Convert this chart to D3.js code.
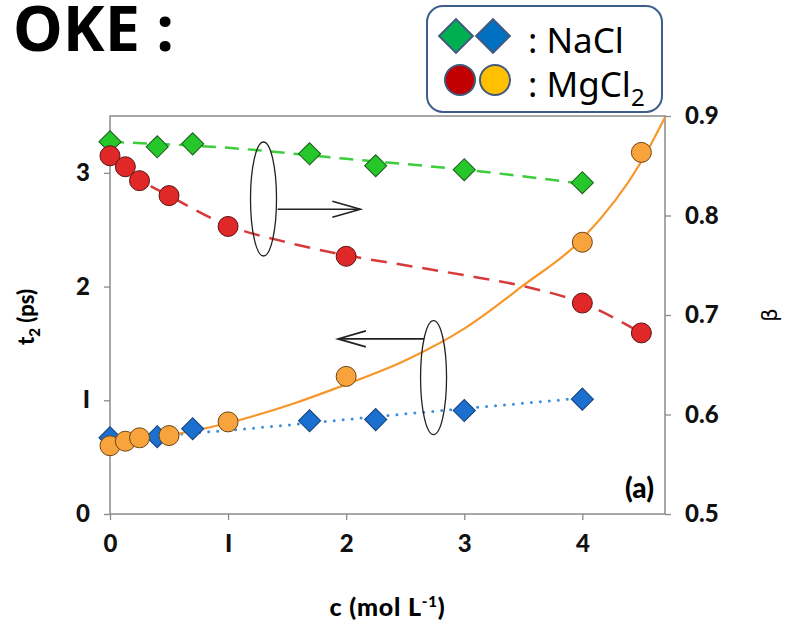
<!DOCTYPE html>
<html>
<head>
<meta charset="utf-8">
<script src="https://cdn.jsdelivr.net/npm/d3@7"></script>
<style>
  body { margin: 0; background: #fff; }
  text { font-family: Lato, "Open Sans", sans-serif; }
</style>
</head>
<body>
<svg id="chart"></svg>
<script>
// NaCl: beta (right axis) and t2 (left axis)
const naclC = [0, 0.4, 0.7, 1.69, 2.25, 3, 4]
const naclBeta = [0.874, 0.869, 0.872, 0.862, 0.850, 0.846, 0.833]
const naclT2 = [0.67, 0.68, 0.75, 0.82, 0.83, 0.91, 1.01]

// MgCl2: beta (right axis) and t2 (left axis)
const mgC = [0, 0.13, 0.25, 0.5, 1, 2, 4, 4.5]
const mgBeta = [0.860, 0.849, 0.835, 0.820, 0.789, 0.759, 0.712, 0.682]
const mgT2 = [0.60, 0.64, 0.67, 0.69, 0.81, 1.21, 2.39, 3.18]

// fit curves
const naclBetaFitC = [0, 1, 2, 3, 4]
const naclBetaFit = [0.874, 0.868, 0.857, 0.846, 0.832]
const mgBetaFitC = [0, 0.13, 0.25, 0.5, 1, 1.5, 2, 2.5, 3, 3.5, 4, 4.5]
const mgBetaFit = [0.862, 0.850, 0.837, 0.820, 0.790, 0.773, 0.760, 0.750, 0.740, 0.729, 0.712, 0.682]
const naclT2FitC = [0, 1.27, 2.5, 4]
const naclT2Fit = [0.655, 0.76, 0.88, 1.02]
const mgT2FitC = [0, 0.5, 1, 1.55, 2, 2.5, 3, 3.5, 4, 4.5, 4.7]
const mgT2Fit = [0.60, 0.69, 0.80, 0.97, 1.14, 1.35, 1.63, 2.01, 2.42, 3.10, 3.49]

// ticks
const xTicks = [0, 1, 2, 3, 4]
const xTickLabels = ['0', 'I', '2', '3', '4']
const t2Ticks = [0, 1, 2, 3]
const t2TickLabels = ['0', 'I', '2', '3']
const betaTicks = [0.5, 0.6, 0.7, 0.8, 0.9]

const width = 787
const height = 631

const svg = d3.select('#chart')
  .attr('width', width)
  .attr('height', height)

const x = d3.scaleLinear().domain([0, 4.7]).range([110, 665])
const yL = d3.scaleLinear().domain([0, 3.5]).range([514, 116])
const yR = d3.scaleLinear().domain([0.5, 0.9]).range([514, 116])

const axisColor = '#8a8a8a'

// frame
svg.append('rect')
  .attr('x', x(0)).attr('y', yL(3.5))
  .attr('width', x(4.7) - x(0)).attr('height', yL(0) - yL(3.5))
  .attr('fill', 'none').attr('stroke', axisColor).attr('stroke-width', 1.5)

function styleAxis (g) {
  g.select('.domain').remove()
  g.selectAll('.tick line').attr('stroke', axisColor).attr('stroke-width', 1.3)
  g.selectAll('.tick text')
    .attr('fill', '#111')
    .style('font-family', 'Lato, sans-serif')
    .style('font-weight', 900)
    .style('font-size', '24px')
}

svg.append('g')
  .attr('transform', `translate(0,${yL(0)})`)
  .call(d3.axisBottom(x).tickValues(xTicks).tickSize(6).tickPadding(15)
    .tickFormat((d, i) => xTickLabels[i]))
  .call(styleAxis)

svg.append('g')
  .attr('transform', `translate(${x(0)},0)`)
  .call(d3.axisLeft(yL).tickValues(t2Ticks).tickSize(6).tickPadding(14)
    .tickFormat((d, i) => t2TickLabels[i]))
  .call(styleAxis)

svg.append('g')
  .attr('transform', `translate(${x(4.7)},0)`)
  .call(d3.axisRight(yR).tickValues(betaTicks).tickSize(6).tickPadding(14)
    .tickFormat(d3.format('.1f')))
  .call(styleAxis)

// axis titles
const yTitle = svg.append('text')
  .attr('transform', `translate(34,${(yL(0) + yL(3.5)) / 2 + 2}) rotate(-90)`)
  .attr('text-anchor', 'middle')
  .style('font-weight', 900).style('font-size', '22px')
yTitle.append('tspan').text('t')
yTitle.append('tspan').attr('dy', 6).style('font-size', '15px').text('2')
yTitle.append('tspan').attr('dy', -6).text(' (ps)')

svg.append('text')
  .attr('transform', `translate(777,${(yL(0) + yL(3.5)) / 2}) rotate(-90)`)
  .attr('text-anchor', 'middle')
  .style('font-family', '"DejaVu Sans", sans-serif')
  .style('font-size', '21px')
  .text('β')

const xTitle = svg.append('text')
  .attr('x', (x(0) + x(4.7)) / 2).attr('y', 616)
  .attr('text-anchor', 'middle')
  .style('font-weight', 900).style('font-size', '25px')
  .style('letter-spacing', '0.8px')
xTitle.append('tspan').text('c (mol L')
xTitle.append('tspan').attr('dy', -9).style('font-size', '15px').text('-1')
xTitle.append('tspan').attr('dy', 9).text(')')

// fit lines
const line = (ys) => d3.line()
  .x(d => x(d[0]))
  .y(d => ys(d[1]))
  .curve(d3.curveMonotoneX)

svg.append('path')
  .attr('d', line(yR)(d3.zip(naclBetaFitC, naclBetaFit)))
  .attr('fill', 'none').attr('stroke', '#3ccc3c').attr('stroke-width', 2.5)
  .attr('stroke-dasharray', '14,9')

svg.append('path')
  .attr('d', line(yR)(d3.zip(mgBetaFitC, mgBetaFit)))
  .attr('fill', 'none').attr('stroke', '#d83a3a').attr('stroke-width', 2.5)
  .attr('stroke-dasharray', '16,10')

svg.append('path')
  .attr('d', line(yL)(d3.zip(naclT2FitC, naclT2Fit)))
  .attr('fill', 'none').attr('stroke', '#3a8ee0').attr('stroke-width', 3)
  .attr('stroke-linecap', 'round')
  .attr('stroke-dasharray', '0,9')

svg.append('path')
  .attr('d', line(yL)(d3.zip(mgT2FitC, mgT2Fit)))
  .attr('fill', 'none').attr('stroke', '#f7962a').attr('stroke-width', 2.2)

// markers
const diamond = d3.symbol(d3.symbolSquare, 245)()

function drawDiamonds (cs, vs, ys, fill, stroke) {
  svg.append('g').selectAll('path')
    .data(d3.zip(cs, vs))
    .join('path')
    .attr('d', diamond)
    .attr('transform', d => `translate(${x(d[0])},${ys(d[1])}) rotate(45)`)
    .attr('fill', fill).attr('stroke', stroke).attr('stroke-width', 1)
}

function drawCircles (cs, vs, ys, fill, stroke) {
  svg.append('g').selectAll('circle')
    .data(d3.zip(cs, vs))
    .join('circle')
    .attr('cx', d => x(d[0])).attr('cy', d => ys(d[1]))
    .attr('r', 10)
    .attr('fill', fill).attr('stroke', stroke).attr('stroke-width', 1)
}

drawDiamonds(naclC, naclBeta, yR, '#25c72b', '#1c5a1c')
drawCircles(mgC, mgBeta, yR, '#e02828', '#5a1515')
drawDiamonds(naclC, naclT2, yL, '#1a6fcf', '#153f78')
drawCircles(mgC, mgT2, yL, '#f8a33c', '#6b4515')

// annotations: ellipses with arrows pointing to the axis used
const annColor = '#222'
function ellipse (c, t2) {
  svg.append('ellipse')
    .attr('cx', x(c)).attr('cy', yL(t2))
    .attr('rx', 13).attr('ry', 57)
    .attr('fill', 'none').attr('stroke', annColor).attr('stroke-width', 1.3)
}
function arrow (c0, c1, t2) {
  const dir = c1 > c0 ? 1 : -1
  const tip = x(c1)
  const y = yL(t2)
  svg.append('line')
    .attr('x1', x(c0)).attr('x2', tip).attr('y1', y).attr('y2', y)
    .attr('stroke', annColor).attr('stroke-width', 1.6)
  svg.append('path')
    .attr('d', `M${tip - dir * 28},${y - 8}L${tip},${y}L${tip - dir * 28},${y + 8}`)
    .attr('fill', 'none').attr('stroke', annColor).attr('stroke-width', 1.6)
}
ellipse(1.30, 2.77)
arrow(1.42, 2.12, 2.68)
ellipse(2.74, 1.20)
arrow(2.66, 1.93, 1.54)

svg.append('text')
  .attr('x', 654).attr('y', 498)
  .attr('text-anchor', 'end')
  .style('font-weight', 900).style('font-size', '28px')
  .text('(a)')

// title
svg.append('text')
  .attr('x', 13).attr('y', 51)
  .style('font-family', '"Noto Sans", "Noto Sans CJK KR", sans-serif')
  .style('font-weight', 700).style('font-size', '63px')
  .text('OKE :')

// legend
const legend = svg.append('g')
legend.append('rect')
  .attr('x', 427).attr('y', 6)
  .attr('width', 235).attr('height', 106)
  .attr('rx', 16)
  .attr('fill', '#fff').attr('stroke', '#3f5d8c').attr('stroke-width', 2)

const legStroke = '#41597f'
const bigDiamond = d3.symbol(d3.symbolSquare, 570)()
;[['#00b050', 456], ['#0070c0', 493]].forEach(([fill, cx]) => {
  legend.append('path')
    .attr('d', bigDiamond)
    .attr('transform', `translate(${cx},36) rotate(45)`)
    .attr('fill', fill).attr('stroke', legStroke).attr('stroke-width', 2)
})
;[['#c00000', 460], ['#ffc000', 495]].forEach(([fill, cx]) => {
  legend.append('circle')
    .attr('cx', cx).attr('cy', 80).attr('r', 15)
    .attr('fill', fill).attr('stroke', legStroke).attr('stroke-width', 2)
})

legend.append('text')
  .attr('x', 528).attr('y', 53)
  .style('font-family', '"Noto Sans", sans-serif')
  .style('font-size', '35px')
  .text(': NaCl')
const mgText = legend.append('text')
  .attr('x', 528).attr('y', 97)
  .style('font-family', '"Noto Sans", sans-serif')
  .style('font-size', '35px')
mgText.append('tspan').text(': MgCl')
mgText.append('tspan').attr('dy', 9).style('font-size', '24px').text('2')
</script>
</body>
</html>
